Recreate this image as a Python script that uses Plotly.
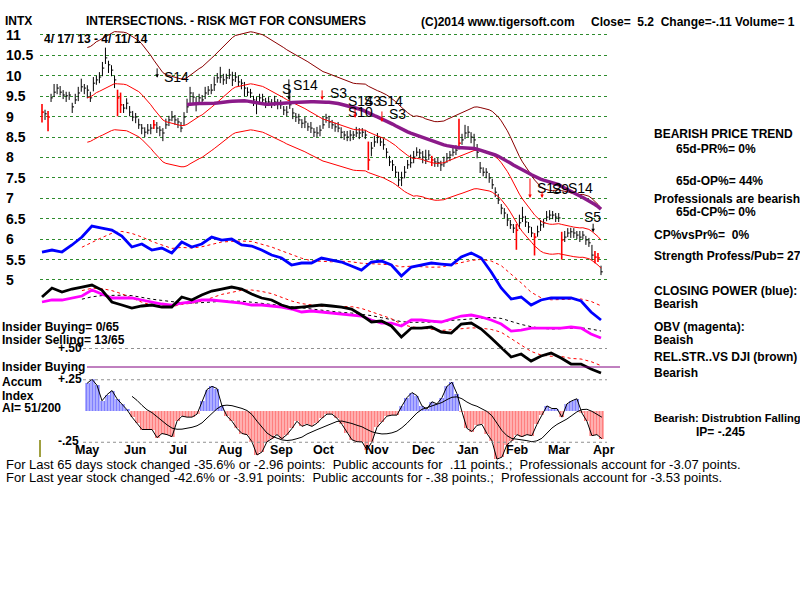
import numpy as np
import plotly.graph_objects as go

# ---------------- data ----------------
close = [9.11, 9.07, 8.99, 9.46, 9.60, 9.70, 9.60, 9.53, 9.51, 9.53,
         9.24, 9.41, 9.58, 9.73, 9.70, 9.65, 9.46, 9.82, 9.90, 9.97,
         10.19, 10.44, 10.27, 10.14, 9.90, 9.46, 9.29, 9.21, 9.33, 9.11,
         8.99, 8.99, 8.80, 8.72, 8.62, 8.67, 8.72, 8.80, 8.72, 8.67,
         8.60, 8.80, 8.92, 8.99, 8.92, 8.87, 8.72, 8.99, 9.24, 9.58,
         9.48, 9.33, 9.46, 9.41, 9.58, 9.65, 9.65, 9.78, 9.95, 9.97,
         9.90, 9.95, 10.02, 9.90, 9.97, 9.85, 9.82, 9.70, 9.60, 9.58,
         9.41, 9.36, 9.46, 9.41, 9.36, 9.36, 9.33, 9.36, 9.33, 9.29,
         9.16, 9.11, 9.29, 9.09, 8.99, 8.92, 8.84, 8.87, 8.75, 8.72,
         8.62, 8.60, 8.67, 8.80, 8.97, 8.87, 8.80, 8.75, 8.72, 8.62,
         8.55, 8.50, 8.55, 8.55, 8.60, 8.60, 8.62, 8.55, 7.94, 8.23,
         8.38, 8.50, 8.38, 8.31, 8.13, 7.89, 7.82, 7.64, 7.45, 7.50,
         7.64, 7.82, 7.87, 8.01, 8.13, 8.11, 8.01, 7.94, 8.06, 7.94,
         7.89, 7.87, 7.82, 7.87, 7.99, 8.06, 8.13, 8.18, 8.35, 8.43,
         8.60, 8.62, 8.50, 8.43, 8.13, 7.74, 7.64, 7.64, 7.50, 7.33,
         7.15, 6.96, 6.76, 6.64, 6.47, 6.35, 6.27, 6.22, 6.40, 6.54,
         6.42, 6.30, 6.15, 6.05, 6.18, 6.35, 6.40, 6.54, 6.59, 6.59,
         6.54, 6.52, 5.98, 6.05, 6.15, 6.18, 6.15, 6.10, 6.05, 6.10,
         5.98, 5.91, 5.61, 5.56, 5.54, 5.20]

up = [.20, .10, .15, .10, .20, .10, .15, .12, .10, .08,
      .10, .15, .15, .20, .10, .12, .15, .15, .10, .12,
      .15, .25, .10, .12, .10, .20, .30, .10, .12, .15,
      .15, .10, .15, .10, .12, .15, .10, .12, .15, .10,
      .12, .15, .10, .15, .12, .10, .15, .12, .20, .15,
      .12, .15, .10, .12, .15, .10, .15, .20, .12, .25,
      .15, .10, .15, .20, .12, .15, .10, .15, .12, .10,
      .10, .12, .10, .15, .10, .12, .10, .15, .10, .12,
      .10, .15, .35, .12, .10, .15, .10, .12, .10, .15,
      .10, .15, .12, .20, .10, .15, .12, .10, .15, .12,
      .10, .15, .12, .10, .15, .12, .10, .12, .45, .15,
      .15, .10, .12, .15, .10, .15, .12, .15, .20, .15,
      .15, .12, .20, .15, .12, .10, .15, .25, .12, .10,
      .10, .12, .10, .15, .12, .10, .15, .12, .60, .15,
      .20, .15, .12, .15, .20, .15, .12, .10, .12, .15,
      .12, .15, .10, .12, .15, .12, .10, .15, .20, .25,
      .15, .12, .15, .10, .15, .12, .10, .15, .12, .10,
      .10, .12, .20, .15, .12, .10, .12, .10, .15, .10,
      .10, .12, .25, .15, .12, .15]

dn = [.25, .15, .35, .10, .12, .15, .08, .10, .15, .12,
      .15, .10, .20, .12, .15, .20, .10, .20, .12, .15,
      .20, .15, .20, .15, .20, .45, .20, .12, .15, .10,
      .10, .15, .10, .15, .12, .10, .15, .10, .12, .15,
      .20, .10, .15, .10, .12, .15, .10, .20, .15, .25,
      .15, .20, .12, .10, .15, .12, .10, .15, .12, .15,
      .12, .15, .10, .15, .12, .10, .15, .20, .10, .12,
      .15, .30, .12, .10, .15, .10, .12, .10, .15, .10,
      .12, .10, .10, .15, .12, .10, .12, .15, .10, .12,
      .12, .10, .15, .10, .12, .15, .10, .12, .10, .15,
      .12, .10, .15, .12, .10, .15, .12, .10, .25, .20,
      .12, .15, .10, .12, .15, .10, .15, .12, .15, .20,
      .15, .10, .12, .15, .10, .12, .15, .10, .12, .15,
      .12, .10, .15, .10, .12, .15, .10, .12, .15, .12,
      .15, .12, .15, .20, .15, .12, .10, .15, .12, .10,
      .12, .10, .15, .12, .15, .10, .12, .48, .15, .12,
      .12, .15, .10, .45, .12, .15, .12, .10, .12, .10,
      .12, .10, .48, .12, .10, .15, .12, .10, .12, .10,
      .12, .10, .12, .15, .10, .08]

red_bars = [0, 2, 25, 26, 37, 108, 129, 138, 157, 163, 172, 183, 184]

# Closing power (blue), OBV (magenta), Rel.Str vs DJI (black) - drawn on price grid
cp = [5.685, 5.734, 5.685, 5.857, 6.052, 6.322, 6.273, 6.224, 6.077, 5.808,
      5.881, 5.734, 5.783, 5.661, 5.930, 5.808, 5.881, 6.052, 5.979, 6.003,
      5.857, 5.832, 5.734, 5.612, 5.538, 5.367, 5.416, 5.416, 5.538, 5.489,
      5.440, 5.342, 5.244, 5.440, 5.465, 5.367, 5.097, 5.318, 5.367, 5.416,
      5.391, 5.367, 5.563, 5.661, 5.538, 5.195, 4.804, 4.534, 4.583, 4.387,
      4.510, 4.559, 4.559, 4.559, 4.485, 4.216, 4.020]
obv = [4.461, 4.510, 4.510, 4.559, 4.608, 4.755, 4.657, 4.559, 4.559, 4.559,
       4.510, 4.461, 4.412, 4.387, 4.436, 4.461, 4.510, 4.510, 4.485, 4.461,
       4.436, 4.387, 4.387, 4.363, 4.338, 4.289, 4.216, 4.240, 4.216, 4.191,
       4.167, 4.142, 4.118, 4.020, 3.946, 3.946, 3.873, 4.020, 4.020, 3.995,
       3.971, 4.044, 4.118, 4.142, 4.093, 4.020, 3.922, 3.750, 3.774, 3.823,
       3.823, 3.823, 3.823, 3.848, 3.823, 3.677, 3.579]
rs = [4.583, 4.804, 4.706, 4.779, 4.828, 4.877, 4.755, 4.461, 4.387, 4.314,
      4.363, 4.387, 4.338, 4.338, 4.583, 4.510, 4.632, 4.730, 4.779, 4.828,
      4.779, 4.657, 4.559, 4.510, 4.387, 4.314, 4.338, 4.363, 4.387, 4.363,
      4.338, 4.289, 4.142, 3.971, 3.995, 3.873, 3.603, 3.823, 3.823, 3.848,
      3.726, 3.701, 3.922, 3.946, 3.799, 3.579, 3.358, 3.113, 3.187, 3.015,
      3.138, 3.211, 3.089, 2.942, 2.942, 2.820, 2.722]

# Accumulation index
ai = [0.221, 0.254, 0.205, 0.082, 0.131, 0.164, 0.098, 0.057, 0.010, -0.049,
      -0.098, -0.148, -0.148, -0.148, -0.213, -0.180, -0.189, -0.205, -0.082, -0.041,
      -0.049, -0.049, -0.025, 0.082, 0.172, 0.197, 0.180, 0.041, -0.041, -0.082,
      -0.139, -0.180, -0.189, -0.246, -0.352, -0.328, -0.246, -0.221, -0.189, -0.221,
      -0.189, -0.139, -0.082, -0.123, -0.107, -0.123, -0.098, -0.057, -0.025, -0.025,
      -0.057, -0.107, -0.172, -0.230, -0.246, -0.246, -0.311, -0.246, -0.131, -0.090,
      -0.041, -0.033, -0.033, 0.041, 0.107, 0.148, 0.123, 0.041, 0.016, 0.074,
      0.057, 0.107, 0.197, 0.230, 0.139, -0.005, -0.139, -0.164, -0.115, -0.107,
      -0.180, -0.238, -0.385, -0.369, -0.270, -0.238, -0.189, -0.205, -0.189, -0.197,
      -0.107, -0.033, 0.041, 0.020, 0.020, -0.049, 0.057, 0.082, 0.098, -0.016,
      -0.082, -0.197, -0.189, -0.221]
ai_start = 14.9

month_labels = ["May", "Jun", "Jul", "Aug", "Sep", "Oct", "Nov", "Dec", "Jan", "Feb", "Mar", "Apr"]
month_pos = [14.9, 30.8, 45.0, 62.2, 79.1, 93.3, 110.9, 126.1, 141.0, 157.2, 171.1, 186.0]

price_ticks = [5, 5.5, 6, 6.5, 7, 7.5, 8, 8.5, 9, 9.5, 10, 10.5, 11]
price_tick_labels = ["5", "5.5", "6", "6.5", "7", "7.5", "8", "8.5", "9", "9.5", "10", "10.5", "11"]
ai_levels = [0.50, 0.25, -0.25]
insider_level = 0.352

# sell signals (arrow tips)
sig_idx = [38.1, 81.7, 92.7, 103.6, 112.5, 161.5, 165.5, 182.4]
sig_tip = [9.95, 9.41, 9.41, 8.97, 8.87, 7.01, 7.01, 6.17]
sig_len = [11, 22, 11, 10, 12, 21, 8, 10]
sig_col = ["black", "black", "red", "red", "red", "red", "red", "black"]

# ---------------- helpers ----------------
def sma(a, w):
    a = list(a)
    out = [None] * (w - 1)
    for i in range(w - 1, len(a)):
        out.append(float(np.mean(a[i - w + 1:i + 1])))
    return out

N = len(close)
idx = list(range(N))

bx, by, rx, ry = [], [], [], []
for i, (c, u, d) in enumerate(zip(close, up, dn)):
    xs = [i, i, None, i, i + 0.6, None]
    ys = [c - d, c + u, None, c, c, None]
    if i in red_bars:
        rx += xs; ry += ys
    else:
        bx += xs; by += ys

ma21 = sma(close, 16)
upper = [None if v is None else v * 1.13 for v in ma21]
lower = [None if v is None else v * 0.885 for v in ma21]
ma65 = sma(close, 49)

ind_x = list(np.linspace(0, N - 1, len(cp)))
ai_x = list(np.linspace(ai_start, 185.3, len(ai)))
ai_w = (185.3 - ai_start) / (len(ai) - 1)

fig = go.Figure()

# price bars
fig.add_trace(go.Scatter(x=bx, y=by, mode="lines", line=dict(color="black", width=1), hoverinfo="skip"))
fig.add_trace(go.Scatter(x=rx, y=ry, mode="lines", line=dict(color="#FF0000", width=1.6), hoverinfo="skip"))
# bands
fig.add_trace(go.Scatter(x=idx, y=upper, mode="lines", line=dict(color="#8B0000", width=1)))
fig.add_trace(go.Scatter(x=idx, y=ma21, mode="lines", line=dict(color="#FF0000", width=1)))
fig.add_trace(go.Scatter(x=idx, y=lower, mode="lines", line=dict(color="#FF0000", width=1)))
fig.add_trace(go.Scatter(x=idx, y=ma65, mode="lines", line=dict(color="#8B1A89", width=3.5)))

# indicator lines
fig.add_trace(go.Scatter(x=ind_x, y=sma(cp, 5), mode="lines", line=dict(color="#FF0000", width=1, dash="dot")))
fig.add_trace(go.Scatter(x=ind_x, y=cp, mode="lines", line=dict(color="#0000FF", width=2.8)))
fig.add_trace(go.Scatter(x=ind_x, y=sma(obv, 5), mode="lines", line=dict(color="black", width=1, dash="dot")))
fig.add_trace(go.Scatter(x=ind_x, y=sma(rs, 5), mode="lines", line=dict(color="#FF0000", width=1, dash="dot")))
fig.add_trace(go.Scatter(x=ind_x, y=obv, mode="lines", line=dict(color="#FF00FF", width=2.8)))
fig.add_trace(go.Scatter(x=ind_x, y=rs, mode="lines", line=dict(color="black", width=2.8)))

# accumulation index
ai_cols = ["#0000FF" if v >= 0 else "#FF0000" for v in ai]
fig.add_trace(go.Bar(x=ai_x, y=ai, width=ai_w, yaxis="y2",
                     marker=dict(color="white", line=dict(width=0),
                                 pattern=dict(shape="|", fgcolor=ai_cols, bgcolor="white",
                                              size=3, solidity=0.75))))
fig.add_trace(go.Scatter(x=ai_x, y=ai, yaxis="y2", mode="lines", line=dict(color="black", width=1)))
fig.add_trace(go.Scatter(x=ai_x, y=sma(ai, 10), yaxis="y2", mode="lines", line=dict(color="black", width=1)))

# ---------------- annotations ----------------
FONT = "Liberation Sans, Arial, sans-serif"
ann = []

def txt(s, px, py, size=12, bold=True, color="black", family=FONT):
    ann.append(dict(text=("<b>%s</b>" % s) if bold else s, x=px / 800, y=1 - py / 600,
                    xref="paper", yref="paper", xanchor="left", yanchor="middle",
                    showarrow=False, font=dict(size=size, color=color, family=family)))

NB = "\u00a0"
txt("INTX", 3, 21)
txt("INTERSECTIONS. - RISK MGT FOR CONSUMERS", 84, 21)
txt("(C)2014 www.tigersoft.com", 419, 22)
txt("Close=" + NB * 2 + "5.2" + NB * 2 + "Change=-.11 Volume= 1", 589, 22)
txt("4/ 17/ 13 - 4/ 11/ 14", 42, 39)

right = [("BEARISH PRICE TREND", 652, 134), ("65d-PR%= 0%", 674, 149),
         ("65d-OP%= 44%", 674, 181), ("Professionals are bearish", 652, 199),
         ("65d-CP%= 0%", 674, 212), ("CP%vsPr%=" + NB * 2 + "0%", 652, 235),
         ("Strength Profess/Pub= 27", 652, 256), ("CLOSING POWER (blue):", 652, 291),
         ("Bearish", 652, 304), ("OBV (magenta):", 652, 327), ("Beaish", 652, 340),
         ("REL.STR..VS DJI (brown)", 652, 357), ("Bearish", 652, 373),
         ("IP= -.245", 694, 432)]
for s, px, py in right:
    txt(s, px, py)
txt("Bearish: Distrubtion Falling", 652, 418, size=11.2)

left = [("Insider Buying= 0/65", 0, 327), ("Insider Selling= 13/65", 0, 340),
        ("+.50", 56, 348), ("Insider Buying", 0, 367), ("Accum", 0, 382),
        ("+.25", 56, 379), ("Index", 0, 396), ("AI= 51/200", 0, 408), ("-.25", 56, 441)]
for s, px, py in left:
    txt(s, px, py)

bottom1 = ("For Last 65 days stock changed -35.6% or -2.96 points:" + NB * 2 +
           "Public accounts for" + NB * 2 + ".11 points.;" + NB * 2 +
           "Professionals account for -3.07 points.")
bottom2 = ("For Last year stock changed -42.6% or -3.91 points:" + NB * 2 +
           "Public accounts for -.38 points.;" + NB * 2 +
           "Professionals account for -3.53 points.")
txt(bottom1, 4, 464, size=13, bold=False)
txt(bottom2, 4, 477, size=13, bold=False)

# signal labels
sig_text = [("S14", 162, 77), ("S", 280, 89), ("S14", 291, 85), ("S3", 328, 93),
            ("S14", 346, 101), ("S3", 362, 101), ("S14", 376, 101),
            ("S10", 346, 112), ("S3", 387, 114),
            ("S12", 535, 188), ("S9", 550, 189), ("S14", 566, 188), ("S5", 582, 217)]
for s, px, py in sig_text:
    txt(s, px, py, size=14, bold=False)

for i_, p_, l_, c_ in zip(sig_idx, sig_tip, sig_len, sig_col):
    ann.append(dict(x=i_, y=p_, xref="x", yref="y", text="", showarrow=True,
                    ax=0, ay=-l_, arrowhead=2, arrowsize=0.7, arrowwidth=1, arrowcolor=c_))

# price tick labels
for v, lab in zip(price_ticks, price_tick_labels):
    ann.append(dict(text="<b>%s</b>" % lab, x=4 / 800, y=v, xref="paper", yref="y",
                    xanchor="left", yanchor="middle", showarrow=False,
                    font=dict(size=14, color="black", family=FONT)))

# month labels
for m, p in zip(month_labels, month_pos):
    ann.append(dict(text="<b>%s</b>" % m, x=p, y=1 - 450 / 600, xref="x", yref="paper",
                    xanchor="center", yanchor="middle", showarrow=False,
                    font=dict(size=12.5, color="black", family=FONT)))

# ---------------- shapes ----------------
shapes = []
for lv in ai_levels:
    shapes.append(dict(type="line", xref="paper", yref="y2", x0=83 / 800, x1=607 / 800,
                       y0=lv, y1=lv, line=dict(color="#909090", width=1, dash="dot")))
shapes.append(dict(type="line", xref="paper", yref="y2", x0=87 / 800, x1=620 / 800,
                   y0=insider_level, y1=insider_level, line=dict(color="#800080", width=1)))
shapes.append(dict(type="line", xref="paper", yref="paper", x0=40 / 800, x1=40 / 800,
                   y0=1 - 457 / 600, y1=1 - 440 / 600, line=dict(color="#808000", width=1.5)))

r0 = -(42 - 40) / (559 / (N - 1))
r1 = r0 + 567 / (559 / (N - 1))

fig.update_layout(
    width=800, height=600, autosize=False,
    margin=dict(l=0, r=0, t=0, b=0, pad=0),
    paper_bgcolor="white", plot_bgcolor="white",
    showlegend=False, bargap=0,
    xaxis=dict(domain=[40 / 800, 607 / 800], range=[r0, r1], showgrid=False,
               showticklabels=False, zeroline=False, showline=False, ticks=""),
    yaxis=dict(domain=[0, 1], range=[-2.837, 11.857], tickvals=price_ticks,
               showticklabels=False, showgrid=True, gridcolor="#2E8B2E", griddash="dot",
               gridwidth=1, zeroline=False, showline=False, ticks=""),
    yaxis2=dict(overlaying="y", range=[-1.512, 3.288], showgrid=False,
                showticklabels=False, zeroline=False, showline=False, ticks=""),
    annotations=ann, shapes=shapes,
)

fig.write_html("out.html", config={"displayModeBar": False},
               post_script="document.body.style.margin='0px';document.body.style.padding='0px';")
